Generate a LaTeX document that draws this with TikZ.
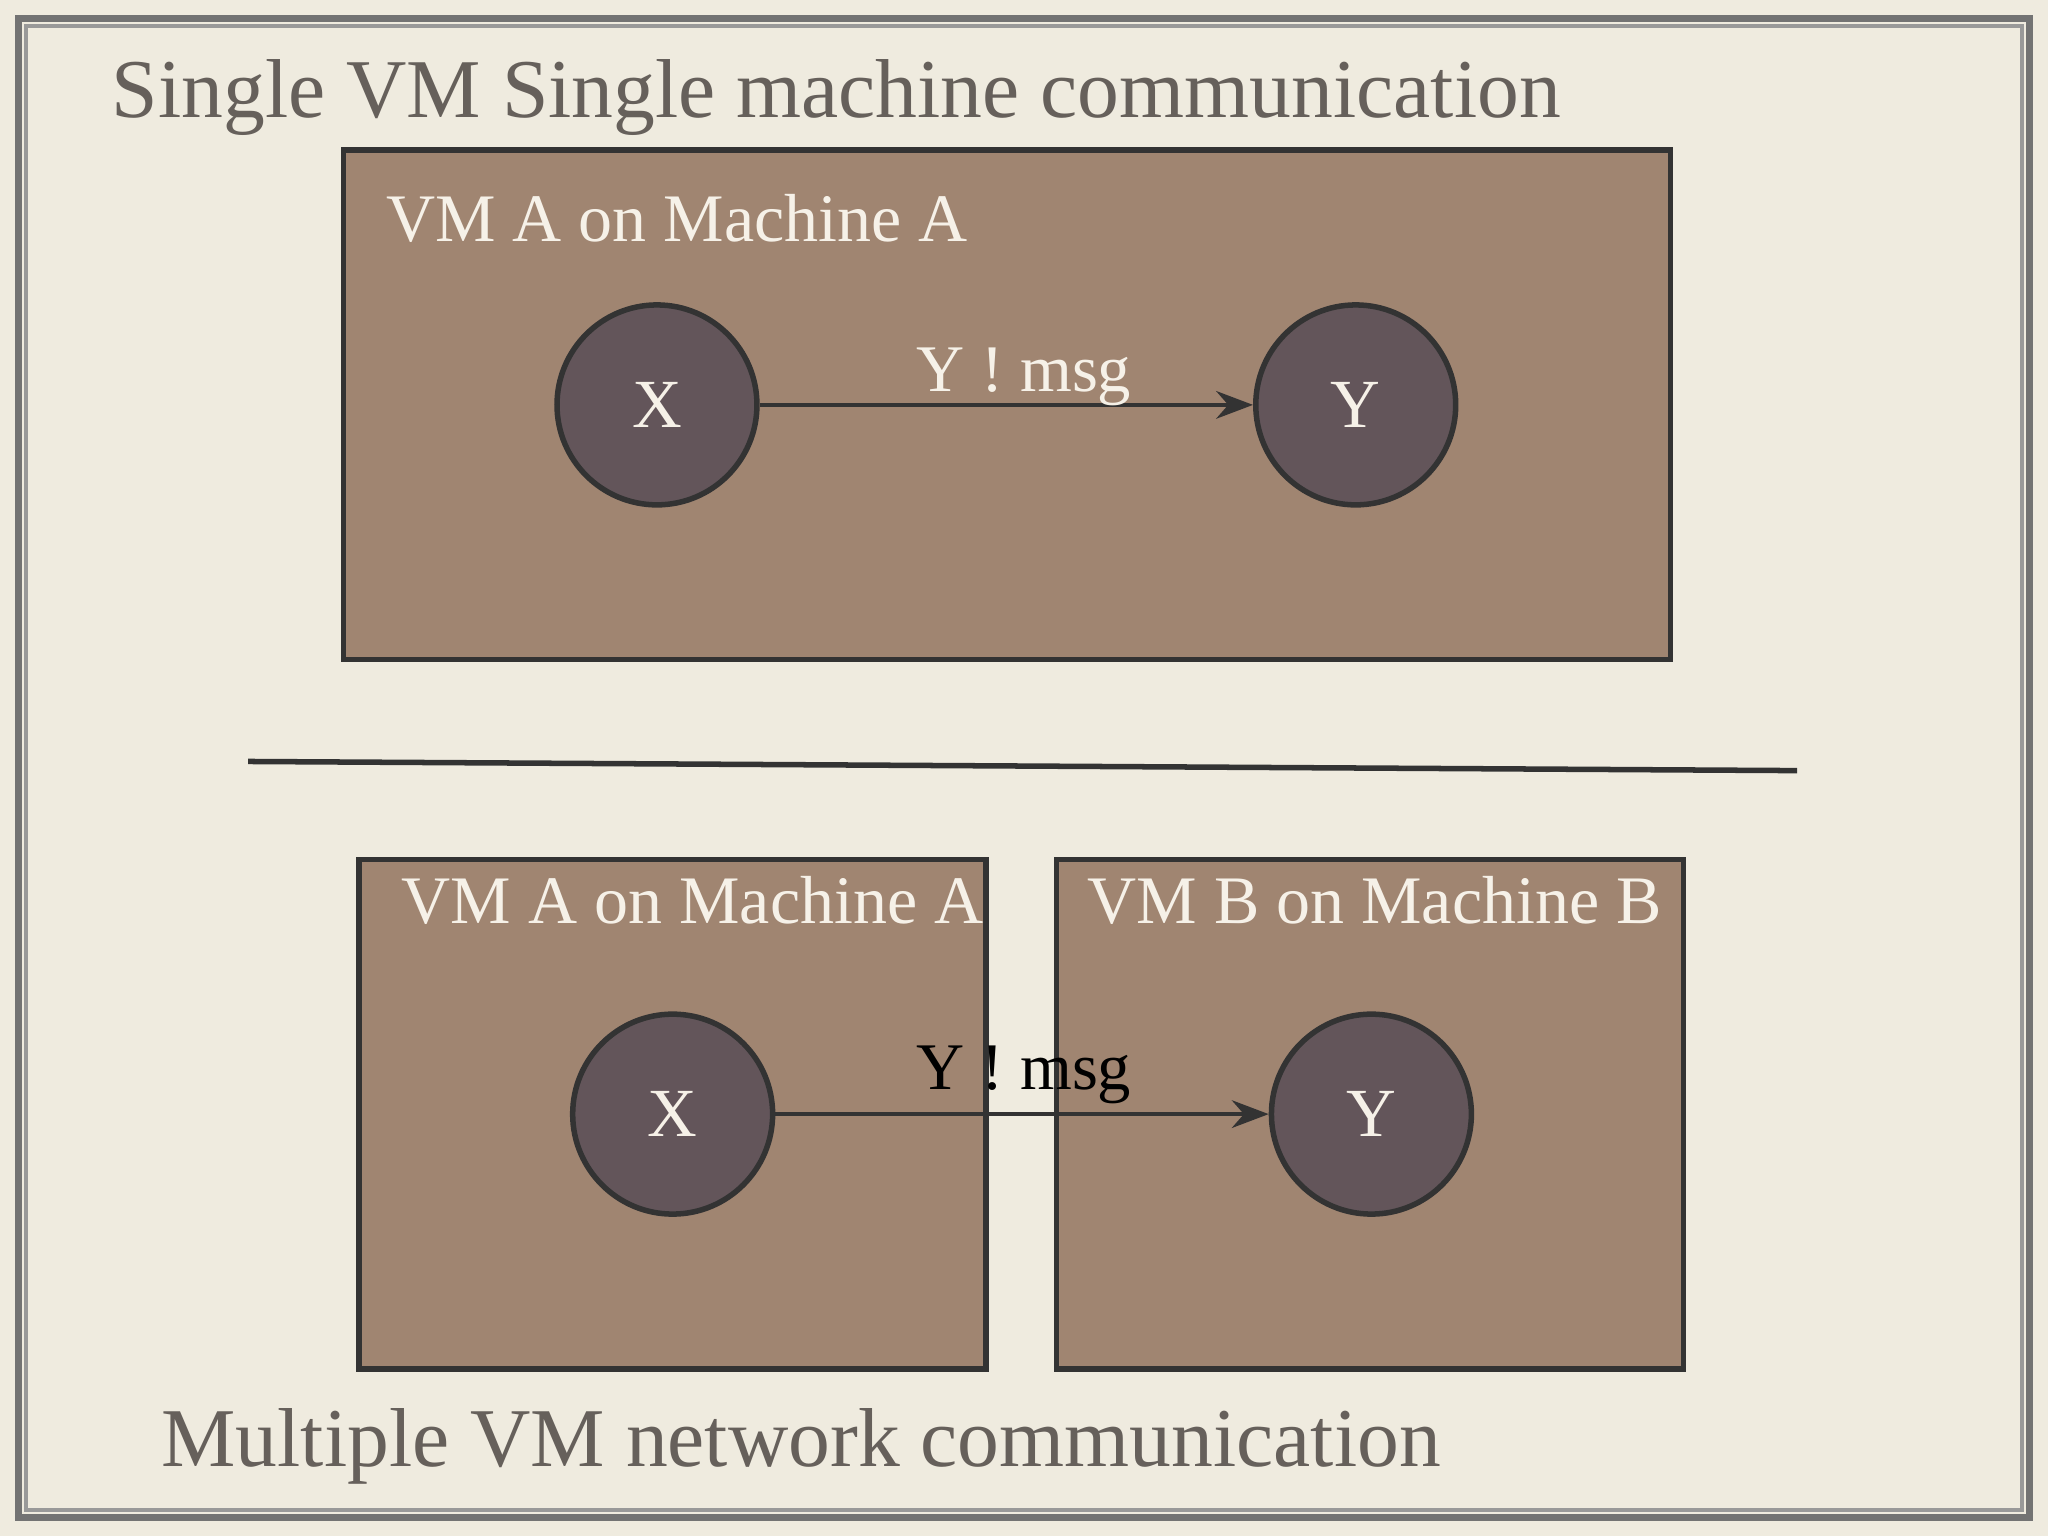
\documentclass[tikz,border=0pt]{standalone}
\usepackage{fontspec}
\setmainfont{Liberation Serif}
\usetikzlibrary{arrows.meta}
\definecolor{bg}{HTML}{EFEBDF}
\definecolor{boxc}{HTML}{A08571}
\definecolor{circc}{HTML}{63555A}
\definecolor{titc}{HTML}{66605B}
\definecolor{lab}{HTML}{F6F1E8}
\begin{document}
\begin{tikzpicture}[x=0.01cm,y=-0.01cm,
  vm/.style={draw=black!80,line width=1.2pt,fill=boxc},
  proc/.style={circle,draw=black!80,line width=1.2pt,fill=circc,minimum size=1.53cm,text=lab,font=\fontsize{15}{15}\selectfont},
  vmlab/.style={anchor=base west,text=lab,font=\fontsize{14.8}{15}\selectfont,inner sep=0},
  title/.style={anchor=base west,text=titc,font=\fontsize{18.2}{19}\selectfont,inner sep=0},
  msg/.style={anchor=base,font=\fontsize{14.5}{15}\selectfont,inner sep=0},
  arr/.style={draw=black!80,line width=1pt,-{Stealth[length=8pt,width=6pt]}}]
\useasboundingbox (0,0) rectangle (1568,1176);
\fill[bg] (0,0) rectangle (1568,1176);
\draw[black!55,line width=1.5pt] (14,14) rectangle (1554,1162);
\draw[black!40,line width=0.8pt] (20,20) rectangle (1548,1156);
\node[title] (t1) at (85,90) {Single VM Single machine communication};
\node[title] (t2) at (123,1123) {Multiple VM network communication};
\draw[vm] (263,115) rectangle (1279,505);
\node[vmlab] (l1) at (295,185) {VM A on Machine A};
\node[proc] (x1) at (503,310) {X};
\node[proc] (y1) at (1038,310) {Y};
\draw[arr] (x1) -- (y1);
\node[msg,text=lab] (m1) at (784,300) {Y ! msg};
\draw[black!80,line width=1.2pt] (190,583) -- (1376,590);
\draw[vm] (275,658) rectangle (755,1048);
\draw[vm] (809,658) rectangle (1289,1048);
\node[vmlab] (l2) at (307,707) {VM A on Machine A};
\node[vmlab] (l3) at (832,707) {VM B on Machine B};
\node[proc] (x2) at (515,853) {X};
\node[proc] (y2) at (1050,853) {Y};
\draw[arr] (x2) -- (y2);
\node[msg,text=black] (m2) at (784,834) {Y ! msg};
\end{tikzpicture}
\end{document}
